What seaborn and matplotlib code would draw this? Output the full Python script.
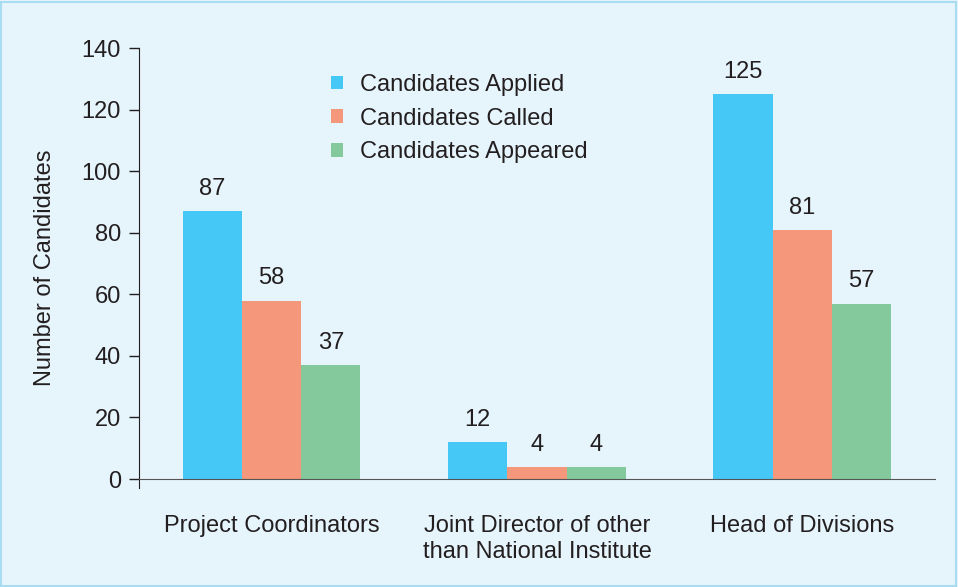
import matplotlib
matplotlib.use("Agg")
import matplotlib.pyplot as plt
from matplotlib.patches import Rectangle
import seaborn as sns
import pandas as pd

categories = ["Project Coordinators", "Joint Director of other\nthan National Institute", "Head of Divisions"]
series = ["Candidates Applied", "Candidates Called", "Candidates Appeared"]
applied = [87, 12, 125]
called = [58, 4, 81]
appeared = [37, 4, 57]

colors = ["#45c8f5", "#f4977a", "#83c99c"]
bg = "#e6f4fc"
ink = "#231f20"
fs = 17

df = pd.DataFrame({
    "category": categories * 3,
    "series": [s for s in series for _ in categories],
    "value": applied + called + appeared,
})

sns.set_style("white")
plt.rcParams["font.family"] = ["Liberation Sans", "DejaVu Sans"]

fig = plt.figure(figsize=(9.58, 5.87), dpi=100, facecolor=bg)
ax = fig.add_axes([0.145, 0.1687, 0.831, 0.7493])
ax.set_facecolor(bg)

sns.barplot(data=df, x="category", y="value", hue="series", palette=colors,
            width=0.67, gap=0, saturation=1, ax=ax, linewidth=0)

for c in ax.containers:
    ax.bar_label(c, padding=8, fontsize=fs, color=ink)

ax.set_xlim(-0.5, 2.5)
ax.set_ylim(-2.9, 140)
ax.set_yticks(range(0, 141, 20))
ax.spines["bottom"].set_position(("data", 0))
ax.spines["bottom"].set_color("#555555")
ax.spines["left"].set_color(ink)
ax.spines["left"].set_bounds(-2.9, 140)
for s in ["top", "right"]:
    ax.spines[s].set_visible(False)
ax.tick_params(axis="y", left=True, length=7, width=1, color=ink, labelsize=fs,
               labelcolor=ink, direction="out", pad=6)
ax.tick_params(axis="x", length=0, pad=26, labelsize=fs, labelcolor=ink)
for lbl in ax.get_xticklabels():
    lbl.set_linespacing(1.25)
ax.set_xlabel("")
ax.set_ylabel("Number of Candidates", fontsize=fs, color=ink, labelpad=18)

ax.legend(loc="upper left", bbox_to_anchor=(0.215, 0.99), frameon=False, fontsize=fs,
          handlelength=0.5, handleheight=0.5, handletextpad=0.7, labelspacing=0.5,
          labelcolor=ink)

fig.patches.append(Rectangle((0.001, 0.001), 0.997, 0.996, transform=fig.transFigure,
                             fill=False, edgecolor="#a8dcf0", linewidth=1.5))

fig.savefig("out.png", dpi=100, facecolor=bg)
